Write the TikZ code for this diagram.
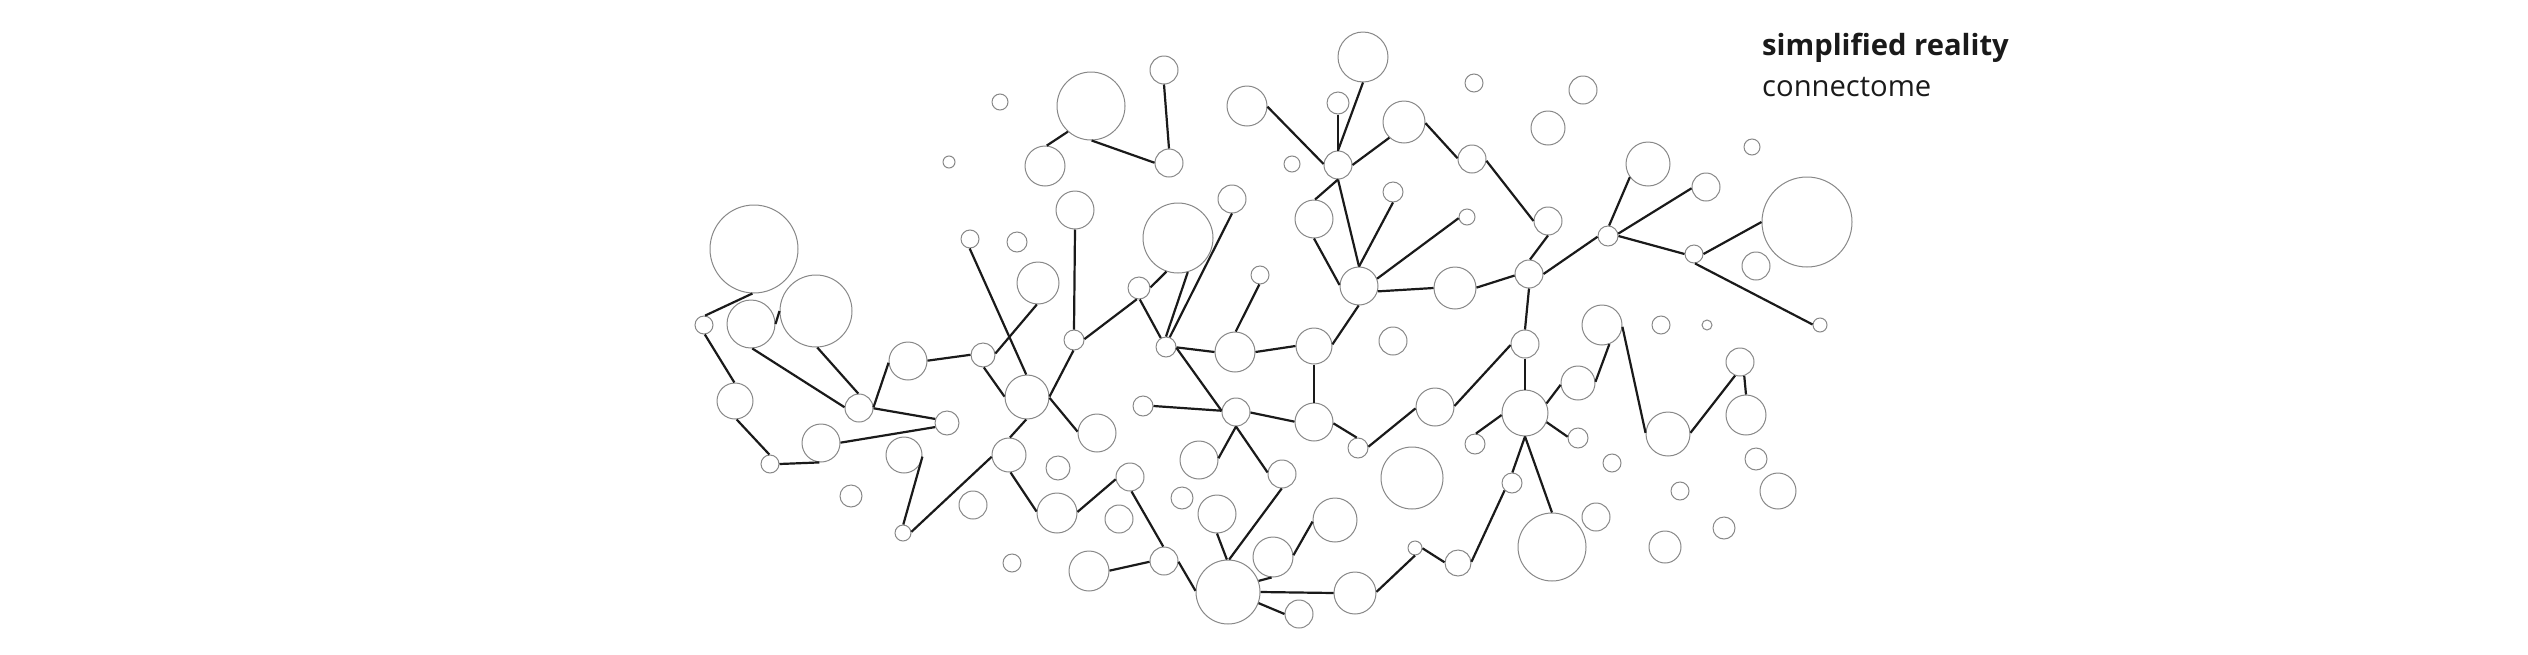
\documentclass[tikz,border=0pt]{standalone}
\usepackage{fontspec}
\setmainfont{Open Sans}
\usetikzlibrary{positioning}
\definecolor{rim}{HTML}{888888}
\definecolor{wire}{HTML}{1A1A1A}

\begin{document}
\begin{tikzpicture}[x=1pt,y=-1pt,
	soma/.style={circle, draw=rim, line width=1pt, fill=white, inner sep=0pt, minimum size=#1},
	axon/.style={draw=wire, line width=2.2pt},
	caption/.style={anchor=base west, text=wire, inner sep=0pt, font=\fontsize{29.2pt}{35pt}\selectfont}]

\useasboundingbox (0,0) rectangle (2528,654);

% left cluster
\node[soma=18pt] (n1) at (704,325) {};
\node[soma=88pt] (n2) at (754,249) {};
\node[soma=48pt] (n3) at (751,324) {};
\node[soma=72pt] (n4) at (816,311) {};
\node[soma=36pt] (n5) at (735,401) {};
\node[soma=18pt] (n6) at (770,464) {};
\node[soma=38pt] (n7) at (821,443) {};
\node[soma=28pt] (n8) at (859,408) {};
\node[soma=38pt] (n9) at (908,361) {};
\node[soma=24pt] (n10) at (947,423) {};
\node[soma=36pt] (n11) at (904,455) {};
\node[soma=22pt] (n12) at (851,496) {};
\node[soma=16pt] (n13) at (903,533) {};
\node[soma=16pt] (n14) at (1000,102) {};
\node[soma=12pt] (n15) at (949,162) {};
\node[soma=68pt] (n16) at (1091,106) {};
\node[soma=40pt] (n17) at (1045,166) {};
\node[soma=38pt] (n18) at (1075,210) {};
\node[soma=18pt] (n19) at (970,239) {};
\node[soma=20pt] (n20) at (1017,242) {};
\node[soma=42pt] (n21) at (1038,283) {};
\node[soma=24pt] (n22) at (983,355) {};
\node[soma=44pt] (n23) at (1027,397) {};
\node[soma=20pt] (n24) at (1074,340) {};
\node[soma=38pt] (n25) at (1097,433) {};
\node[soma=34pt] (n26) at (1009,455) {};
\node[soma=24pt] (n27) at (1058,468) {};
\node[soma=28pt] (n28) at (1130,477) {};
\node[soma=28pt] (n29) at (973,505) {};
\node[soma=40pt] (n30) at (1057,513) {};
\node[soma=28pt] (n31) at (1119,519) {};
\node[soma=18pt] (n32) at (1012,563) {};
\node[soma=40pt] (n33) at (1089,571) {};

% middle cluster
\node[soma=28pt] (n34) at (1164,70) {};
\node[soma=28pt] (n35) at (1169,163) {};
\node[soma=22pt] (n36) at (1139,288) {};
\node[soma=70pt] (n37) at (1178,238) {};
\node[soma=28pt] (n38) at (1232,199) {};
\node[soma=18pt] (n39) at (1260,275) {};
\node[soma=20pt] (n40) at (1166,347) {};
\node[soma=40pt] (n41) at (1235,352) {};
\node[soma=40pt] (n42) at (1247,106) {};
\node[soma=16pt] (n43) at (1292,164) {};
\node[soma=22pt] (n44) at (1338,103) {};
\node[soma=50pt] (n45) at (1363,57) {};
\node[soma=28pt] (n46) at (1338,165) {};
\node[soma=42pt] (n47) at (1404,122) {};
\node[soma=38pt] (n48) at (1314,219) {};
\node[soma=20pt] (n49) at (1393,192) {};
\node[soma=16pt] (n50) at (1467,217) {};
\node[soma=38pt] (n51) at (1359,286) {};
\node[soma=42pt] (n52) at (1455,288) {};
\node[soma=18pt] (n53) at (1474,83) {};
\node[soma=28pt] (n54) at (1472,159) {};
\node[soma=34pt] (n55) at (1548,128) {};
\node[soma=28pt] (n56) at (1583,90) {};
\node[soma=28pt] (n57) at (1548,221) {};
\node[soma=28pt] (n58) at (1529,274) {};
\node[soma=36pt] (n59) at (1314,346) {};
\node[soma=28pt] (n60) at (1393,341) {};
\node[soma=28pt] (n61) at (1525,344) {};
\node[soma=20pt] (n62) at (1143,406) {};
\node[soma=28pt] (n63) at (1236,412) {};
\node[soma=38pt] (n64) at (1314,422) {};
\node[soma=20pt] (n65) at (1358,448) {};
\node[soma=38pt] (n66) at (1435,407) {};
\node[soma=46pt] (n67) at (1525,413) {};
\node[soma=34pt] (n68) at (1578,383) {};
\node[soma=20pt] (n69) at (1578,438) {};
\node[soma=20pt] (n70) at (1475,444) {};
\node[soma=38pt] (n71) at (1199,460) {};
\node[soma=28pt] (n72) at (1282,474) {};
\node[soma=62pt] (n73) at (1412,478) {};
\node[soma=20pt] (n74) at (1512,483) {};
\node[soma=22pt] (n75) at (1182,498) {};
\node[soma=38pt] (n76) at (1217,514) {};
\node[soma=44pt] (n77) at (1335,520) {};
\node[soma=68pt] (n78) at (1552,547) {};
\node[soma=28pt] (n79) at (1164,561) {};
\node[soma=40pt] (n80) at (1273,557) {};
\node[soma=14pt] (n81) at (1415,548) {};
\node[soma=26pt] (n82) at (1458,563) {};
\node[soma=64pt] (n83) at (1228,592) {};
\node[soma=42pt] (n84) at (1355,593) {};
\node[soma=28pt] (n85) at (1299,614) {};

% right cluster
\node[soma=44pt] (n86) at (1648,164) {};
\node[soma=28pt] (n87) at (1706,187) {};
\node[soma=16pt] (n88) at (1752,147) {};
\node[soma=90pt] (n89) at (1807,222) {};
\node[soma=20pt] (n90) at (1608,236) {};
\node[soma=18pt] (n91) at (1694,254) {};
\node[soma=28pt] (n92) at (1756,266) {};
\node[soma=14pt] (n93) at (1820,325) {};
\node[soma=40pt] (n94) at (1602,325) {};
\node[soma=18pt] (n95) at (1661,325) {};
\node[soma=10pt] (n96) at (1707,325) {};
\node[soma=28pt] (n97) at (1740,362) {};
\node[soma=40pt] (n98) at (1746,415) {};
\node[soma=44pt] (n99) at (1668,434) {};
\node[soma=18pt] (n100) at (1612,463) {};
\node[soma=22pt] (n101) at (1756,459) {};
\node[soma=18pt] (n102) at (1680,491) {};
\node[soma=36pt] (n103) at (1778,491) {};
\node[soma=28pt] (n104) at (1596,517) {};
\node[soma=22pt] (n105) at (1724,528) {};
\node[soma=32pt] (n106) at (1665,547) {};

% edges, left
\draw[axon] (n2.268) -- (n1.83);
\draw[axon] (n3.0) -- (n4.180);
\draw[axon] (n1.275) -- (n5.92);
\draw[axon] (n5.275) -- (n6.94);
\draw[axon] (n6.0) -- (n7.265);
\draw[axon] (n3.273) -- (n8.177);
\draw[axon] (n4.272) -- (n8.93);
\draw[axon] (n8.3) -- (n9.185);
\draw[axon] (n8.359) -- (n10.161);
\draw[axon] (n7.1) -- (n10.199);
\draw[axon] (n9.1) -- (n22.179);
\draw[axon] (n21.267) -- (n22.7);
\draw[axon] (n19.268) -- (n23.92);
\draw[axon] (n22.274) -- (n23.179);
\draw[axon] (n23.1) -- (n24.267);
\draw[axon] (n23.358) -- (n25.176);
\draw[axon] (n23.268) -- (n26.87);
\draw[axon] (n26.186) -- (n13.8);
\draw[axon] (n11.355) -- (n13.88);
\draw[axon] (n26.275) -- (n30.176);
\draw[axon] (n30.3) -- (n28.189);
\draw[axon] (n28.276) -- (n79.93);
\draw[axon] (n33.1) -- (n79.183);
\draw[axon] (n16.228) -- (n17.85);
\draw[axon] (n16.271) -- (n35.179);
\draw[axon] (n34.270) -- (n35.90);
\draw[axon] (n18.270) -- (n24.90);
\draw[axon] (n24.5) -- (n36.259);

% edges, middle
\draw[axon] (n36.3) -- (n37.251);
\draw[axon] (n36.274) -- (n40.120);
\draw[axon] (n37.286) -- (n40.90);
\draw[axon] (n38.270) -- (n40.69);
\draw[axon] (n40.358) -- (n41.180);
\draw[axon] (n40.355) -- (n63.175);
\draw[axon] (n62.0) -- (n63.175);
\draw[axon] (n39.266) -- (n41.88);
\draw[axon] (n41.0) -- (n59.180);
\draw[axon] (n59.5) -- (n51.269);
\draw[axon] (n59.270) -- (n64.90);
\draw[axon] (n63.358) -- (n64.179);
\draw[axon] (n64.356) -- (n65.97);
\draw[axon] (n65.7) -- (n66.184);
\draw[axon] (n66.3) -- (n61.184);
\draw[axon] (n61.270) -- (n67.90);
\draw[axon] (n67.24) -- (n68.186);
\draw[axon] (n67.337) -- (n69.173);
\draw[axon] (n67.185) -- (n70.85);
\draw[axon] (n67.270) -- (n74.88);
\draw[axon] (n67.270) -- (n78.90);
\draw[axon] (n74.225) -- (n82.5);
\draw[axon] (n82.177) -- (n81.358);
\draw[axon] (n81.270) -- (n84.3);
\draw[axon] (n83.0) -- (n84.180);
\draw[axon] (n83.340) -- (n85.180);
\draw[axon] (n83.20) -- (n80.266);
\draw[axon] (n80.5) -- (n77.184);
\draw[axon] (n83.88) -- (n72.269);
\draw[axon] (n83.92) -- (n76.270);
\draw[axon] (n63.270) -- (n72.174);
\draw[axon] (n63.270) -- (n71.5);
\draw[axon] (n79.357) -- (n83.178);
\draw[axon] (n42.358) -- (n46.176);
\draw[axon] (n44.270) -- (n46.90);
\draw[axon] (n45.270) -- (n46.90);
\draw[axon] (n47.227) -- (n46.0);
\draw[axon] (n46.270) -- (n48.87);
\draw[axon] (n46.270) -- (n51.90);
\draw[axon] (n49.270) -- (n51.90);
\draw[axon] (n50.188) -- (n51.22);
\draw[axon] (n48.270) -- (n51.177);
\draw[axon] (n51.344) -- (n52.180);
\draw[axon] (n47.357) -- (n54.177);
\draw[axon] (n54.353) -- (n57.180);
\draw[axon] (n57.270) -- (n58.86);
\draw[axon] (n52.1) -- (n58.186);
\draw[axon] (n58.270) -- (n61.90);

% edges, right
\draw[axon] (n58.0) -- (n90.184);
\draw[axon] (n90.84) -- (n86.216);
\draw[axon] (n90.13) -- (n87.185);
\draw[axon] (n90.0) -- (n91.180);
\draw[axon] (n91.0) -- (n89.180);
\draw[axon] (n91.276) -- (n93.176);
\draw[axon] (n94.291) -- (n68.4);
\draw[axon] (n94.355) -- (n99.177);
\draw[axon] (n99.3) -- (n97.250);
\draw[axon] (n97.287) -- (n98.90);

% labels
\node[caption, font=\fontsize{29.2pt}{35pt}\selectfont\bfseries] (title) at (1762,55) {simplified reality};
\node[caption] (subtitle) at (1762,96.7) {connectome};

\end{tikzpicture}
\end{document}
